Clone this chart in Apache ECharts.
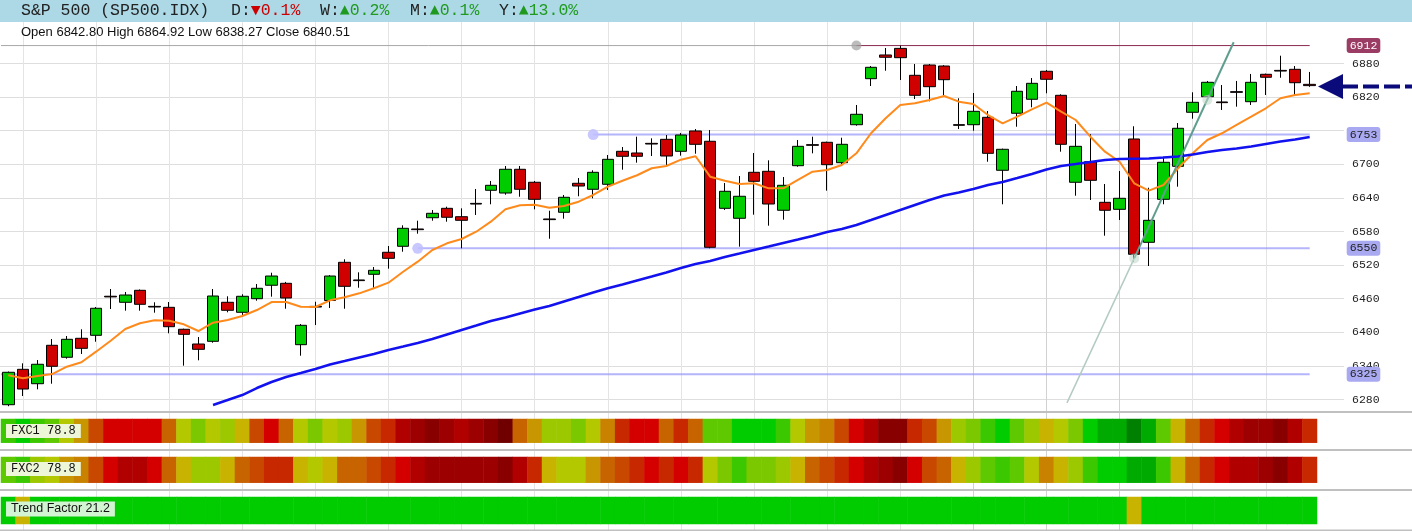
<!DOCTYPE html>
<html><head><meta charset="utf-8">
<script src="https://cdn.jsdelivr.net/npm/echarts@6/dist/echarts.min.js"></script>
<style>html,body{margin:0;padding:0;background:#fff;overflow:hidden}#c{width:1412px;height:531px}</style>
</head><body><div id="c"></div>
<script>
// ---------------- data ----------------
const symbolName = 'S&P 500 (SP500.IDX)';
const periodChanges = [
  {label: 'D:', dir: 'down', pct: '0.1%'},
  {label: 'W:', dir: 'up', pct: '0.2%'},
  {label: 'M:', dir: 'up', pct: '0.1%'},
  {label: 'Y:', dir: 'up', pct: '13.0%'}
];
const opens = [6270.7,6333.9,6308.2,6376.8,6355.4,6389.3,6394.6,6464.4,6453.6,6475.0,
  6446.3,6444.6,6405.4,6379.1,6383.9,6453.6,6435.7,6460.0,6484.0,6487.5,
  6377.9,6446.3,6456.8,6525.0,6493.5,6503.6,6542.9,6553.6,6584.5,6604.6,
  6621.4,6606.4,6630.2,6653.6,6648.7,6691.1,6667.9,6602.4,6614.3,6666.1,
  6655.4,6664.3,6723.2,6720.2,6737.4,6744.6,6723.2,6759.5,6741.1,6621.4,
  6603.6,6685.7,6687.5,6617.9,6697.5,6735.1,6739.3,6702.9,6770.7,6852.9,
  6895.2,6907.0,6858.9,6877.3,6875.5,6770.8,6770.7,6783.9,6689.3,6791.1,
  6816.1,6866.1,6823.2,6667.9,6704.6,6632.1,6619.6,6745.2,6560.7,6637.5,
  6696.4,6792.9,6820.7,6811.3,6829.7,6811.8,6860.7,6867.7,6869.6,6842.80];
const closes = [6328.6,6298.7,6342.9,6339.3,6387.5,6371.4,6442.9,6463.2,6466.6,6450.0,
  6445.2,6410.0,6396.4,6369.6,6464.8,6439.3,6464.3,6478.6,6500.5,6461.2,
  6412.5,6445.1,6500.5,6482.1,6492.3,6510.7,6532.1,6585.7,6583.3,6612.5,
  6605.4,6600.0,6629.0,6662.5,6691.1,6655.4,6637.5,6601.2,6641.1,6661.2,
  6685.7,6708.9,6714.3,6714.3,6736.2,6714.8,6752.3,6735.7,6551.8,6651.8,
  6642.9,6669.6,6629.1,6662.5,6732.1,6733.9,6699.3,6735.7,6789.3,6873.2,
  6891.1,6890.4,6823.2,6838.6,6851.1,6769.6,6794.6,6719.6,6726.8,6830.4,
  6844.6,6851.8,6735.7,6732.1,6671.4,6617.9,6639.3,6539.3,6600.0,6703.6,
  6764.3,6810.7,6846.4,6810.1,6828.5,6846.4,6855.4,6866.5,6845.7,6840.51];
const lows = [6268.0,6286.2,6298.2,6308.2,6352.9,6361.2,6383.2,6441.6,6438.6,6438.6,
  6435.0,6398.2,6340.4,6350.0,6381.4,6435.7,6427.9,6456.4,6463.6,6442.1,
  6358.2,6413.0,6443.4,6442.1,6479.6,6479.6,6513.6,6543.9,6576.1,6599.3,
  6597.5,6550.0,6609.5,6628.6,6645.7,6642.1,6619.6,6567.1,6602.9,6642.9,
  6639.3,6654.1,6690.4,6702.9,6714.8,6698.7,6715.4,6718.9,6550.0,6618.4,
  6552.9,6610.0,6590.4,6601.1,6695.7,6719.6,6652.9,6698.7,6768.9,6839.8,
  6867.1,6850.5,6816.6,6812.5,6823.2,6763.0,6760.0,6704.6,6628.6,6767.1,
  6801.8,6826.8,6722.5,6643.9,6636.2,6572.5,6600.5,6526.1,6518.4,6628.6,
  6660.0,6781.4,6817.9,6797.0,6802.9,6805.9,6823.7,6854.6,6823.7,6838.27];
const highs = [6330.0,6344.6,6350.5,6388.0,6393.4,6405.4,6445.2,6477.3,6472.0,6476.5,
  6453.6,6454.1,6406.5,6391.6,6477.3,6464.3,6467.9,6486.2,6506.4,6490.0,
  6414.8,6454.6,6502.0,6530.4,6507.1,6516.6,6554.1,6591.1,6599.3,6618.4,
  6624.3,6621.4,6655.9,6670.2,6697.0,6697.0,6670.2,6617.1,6645.2,6675.5,
  6689.3,6716.6,6730.9,6749.3,6746.4,6752.3,6756.0,6763.0,6761.2,6666.6,
  6679.1,6720.2,6707.1,6677.3,6743.4,6749.3,6740.5,6747.5,6805.9,6875.5,
  6907.7,6912.0,6879.1,6879.0,6877.0,6817.9,6827.3,6795.2,6728.0,6839.8,
  6854.1,6868.4,6825.0,6772.0,6753.6,6664.8,6688.0,6767.9,6658.2,6713.6,
  6773.7,6828.6,6848.8,6841.6,6848.8,6861.3,6862.0,6893.9,6875.5,6864.92];
// fast average (orange) and slow average (blue)
const fastAvg = [6323.2,6317.9,6322,6325.5,6338.6,6346.4,6365.4,6385,6405.9,6416.1,
  6421.4,6420.7,6414.3,6402.3,6417.1,6422,6429.1,6439.8,6454.1,6454.1,
  6445.7,6445.2,6457.1,6462.5,6469.6,6478.6,6488.6,6508.2,6526.1,6547,
  6558.9,6566.6,6579.6,6597.5,6619.6,6626.8,6627.9,6622.5,6625.5,6633.2,
  6645.2,6660,6670.7,6680.4,6692.9,6697,6708.2,6714.3,6677.9,6670.7,
  6664.8,6666.1,6657.1,6657.1,6672,6686.8,6689.8,6698.7,6719.6,6755.4,
  6782.1,6805.9,6808.9,6814.8,6822,6811.8,6807.7,6788,6773.2,6785,
  6798.2,6810,6793.9,6779.1,6749.3,6722.5,6704.6,6666.1,6652.9,6663,
  6692.9,6719.6,6743.4,6755.4,6770.2,6785,6800,6817.9,6823.7,6826.8];
const slowAvg = [null,null,null,null,null,null,null,null,null,null,null,null,null,null,
  6270.2,6279.1,6288,6300.5,6311.2,6320.2,6327.3,6334.5,6342.5,6348.7,
  6355,6361.2,6368.4,6374.6,6380.9,6388,6396.1,6404.1,6412.1,6420.2,
  6426.4,6433.6,6440.7,6447,6455,6463,6471.1,6478.6,6485.4,6492.5,
  6499.6,6506.8,6514.8,6522,6527.3,6534.5,6540.7,6547,6553.2,6559.5,
  6565.7,6572,6579.1,6584.5,6591.6,6600.5,6609.5,6618.4,6627.3,6636.2,
  6644.3,6649.6,6655.9,6663,6668.4,6675.5,6682.7,6690.7,6697,6700.5,
  6704.1,6707.7,6709.5,6710,6710.4,6712.1,6713.9,6717.5,6722,6725.5,
  6728.2,6731.8,6736.3,6740.7,6744.3,6748.8];
// horizontal levels: value, candle index where they are anchored
const highLevel = {value: 6912, anchor: 58};
const supportLevels = [
  {value: 6753, anchor: 40},
  {value: 6550, anchor: 28},
  {value: 6325, anchor: null}
];
// trend line (candle index, price)
const trendBack = [[72.4, 6274], [77, 6532]];
const trendFwd = [[77, 6532], [83.8, 6918]];
const trendAnchors = [[77, 6532], [82, 6815]];
// price axis tick labels
const priceTicks = [6280,6340,6400,6460,6520,6580,6640,6700,6760,6820,6880];
// indicator strips: colour level per candle (0 = strongest green ... 18 = darkest red)
const fxc1 = [3,2,3,4,7,9,12,14,14,14, 14,11,7,5,7,6,8,12,14,11, 7,5,7,6,9,12,13,15,16,17,
  16,15,16,17,18,11,9,6,6,5, 7,10,13,14,14,11,13,11,4,4, 2,2,2,3,7,9,10,12,14,15,
  17,17,13,12,9,6,5,3,2,4, 6,8,7,5,2,1,1,0,1,4, 8,11,13,14,15,16,16,17,15,13];
const fxc2 = [4,3,6,7,9,10,12,14,15,15, 14,11,8,6,6,8,11,12,13,13, 8,7,8,11,11,12,13,14,15,16,
  16,16,16,16,17,15,13,8,7,7, 9,11,12,13,14,13,14,13,7,5, 3,5,5,6,8,11,12,13,14,15,
  16,17,14,12,11,8,6,4,3,4, 7,10,8,6,3,2,2,1,1,3, 8,11,13,14,15,15,16,17,15,13];
const trendFactor = [2,8,2,2,2,2,2,2,2,2, 2,2,2,2,2,2,2,2,2,2, 2,2,2,2,2,2,2,2,2,2,
  2,2,2,2,2,2,2,2,2,2, 2,2,2,2,2,2,2,2,2,2, 2,2,2,2,2,2,2,2,2,2,
  2,2,2,2,2,2,2,2,2,2, 2,2,2,2,2,2,2,8,2,2, 2,2,2,2,2,2,2,2,2,2];
const stripLabels = ['FXC1 78.8', 'FXC2 78.8', 'Trend Factor 21.2'];
const palette = ['#008000','#00aa00','#00cc00','#3cc800','#5ec800','#7cc800','#9cc800','#b4c800',
  '#c8b400','#c89600','#c88200','#c86400','#c84800','#c82800','#d40000','#b00000','#9c0000','#880000','#700000'];
const categories = opens.map((_, i) => String(i + 1));

// ---------------- chart ----------------
const chart = echarts.init(document.getElementById('c'));
const PMIN = 6220, PMAX = 6929.1;
const mono = '"Liberation Mono", "DejaVu Sans Mono", monospace';
const sans = '"Liberation Sans", Arial, sans-serif';

const candleData = opens.map((o, i) => [o, closes[i], lows[i], highs[i]]);
const heat = arr => arr.map((v, i) => [i, 0, v]);
const lastIdx = opens.length - 1;

const vLineColors = [];
for (let k = 0; k < 18; k++) vLineColors.push(k >= 13 && k <= 15 ? '#d2d2d2' : '#e4e4e4');

const levelSeries = [];
levelSeries.push({
  type: 'line', xAxisIndex: 1, yAxisIndex: 0, z: 2, silent: true, symbol: 'none',
  lineStyle: {color: '#a8a8a8', width: 1},
  data: [[-0.5, highLevel.value], [highLevel.anchor, highLevel.value]]
});
levelSeries.push({
  type: 'line', xAxisIndex: 1, yAxisIndex: 0, z: 2, silent: true, showSymbol: true,
  lineStyle: {color: '#8a2a50', width: 1},
  data: [
    {value: [highLevel.anchor, highLevel.value], symbol: 'circle', symbolSize: 10, itemStyle: {color: 'rgba(160,160,160,0.7)'}},
    {value: [lastIdx, highLevel.value], symbol: 'none'}
  ],
  endLabel: {show: true, formatter: String(highLevel.value), distance: 37, color: '#fff',
    backgroundColor: '#9b3c64', padding: [1, 3, 1, 3], borderRadius: 3,
    fontFamily: mono, fontSize: 11.5, lineHeight: 13}
});
supportLevels.forEach(l => {
  const start = l.anchor == null ? -0.5 : l.anchor;
  levelSeries.push({
    type: 'line', xAxisIndex: 1, yAxisIndex: 0, z: 2, silent: true, showSymbol: true,
    lineStyle: {color: 'rgba(150,150,250,0.7)', width: 2},
    data: [
      l.anchor == null ? {value: [start, l.value], symbol: 'none'} :
        {value: [start, l.value], symbol: 'circle', symbolSize: 11, itemStyle: {color: 'rgba(190,190,255,0.85)'}},
      {value: [lastIdx, l.value], symbol: 'none'}
    ],
    endLabel: {show: true, formatter: String(l.value), distance: 37, color: '#222',
      backgroundColor: '#a9a9f2', padding: [1, 3, 1, 3], borderRadius: 3,
      fontFamily: mono, fontSize: 11.5, lineHeight: 13}
  });
});

const option = {
  animation: false,
  backgroundColor: '#fff',
  grid: [
    {left: 1, right: 95, top: 36, bottom: 97.9},
    {left: 0, right: 68, top: 36, bottom: 97.9},
    {left: 22.93, right: 95, top: 22, bottom: 0},
    {left: 1, right: 95, top: 419, height: 23.7},
    {left: 1, right: 95, top: 457, height: 25.7},
    {left: 1, right: 95, top: 497, height: 27}
  ],
  xAxis: [
    {type: 'category', gridIndex: 0, data: categories, boundaryGap: true, show: false},
    {type: 'value', gridIndex: 0, min: -0.5, max: lastIdx + 0.5, show: false},
    {type: 'value', gridIndex: 2, min: 1, max: lastIdx + 0.5, interval: 5,
      axisLine: {show: false}, axisTick: {show: false}, axisLabel: {show: false},
      splitLine: {show: true, showMaxLine: false, lineStyle: {color: vLineColors, width: 1}}},
    {type: 'value', gridIndex: 1, min: 0, max: 1, show: false},
    {type: 'category', gridIndex: 3, data: categories, show: false},
    {type: 'category', gridIndex: 4, data: categories, show: false},
    {type: 'category', gridIndex: 5, data: categories, show: false}
  ],
  yAxis: [
    {type: 'value', gridIndex: 0, min: PMIN, max: PMAX, show: false},
    {type: 'value', gridIndex: 1, position: 'right', min: PMIN, max: PMAX, interval: 60,
      axisLine: {show: false}, axisTick: {show: false},
      axisLabel: {margin: 8, fontFamily: mono, fontSize: 11.5, color: '#222',
        formatter: v => priceTicks.indexOf(Math.round(v)) >= 0 && Math.abs(v - Math.round(v)) < 1e-6 ? String(v) : ''},
      splitLine: {show: true, showMinLine: false, showMaxLine: false, lineStyle: {color: '#dedede', width: 1}}},
    {type: 'value', gridIndex: 2, min: 0, max: 1, show: false},
    {type: 'category', gridIndex: 3, data: ['a'], show: false},
    {type: 'category', gridIndex: 4, data: ['a'], show: false},
    {type: 'category', gridIndex: 5, data: ['a'], show: false}
  ],
  visualMap: {
    type: 'piecewise', show: false, dimension: 2, seriesIndex: [3, 4, 5],
    pieces: palette.map((c, i) => ({value: i, color: c}))
  },
  series: [
    {type: 'candlestick', xAxisIndex: 0, yAxisIndex: 0, z: 3, data: candleData, barWidth: 12,
      itemStyle: {color: '#00cc00', color0: '#d00000', borderColor: '#000', borderColor0: '#000',
        borderColorDoji: '#000', borderWidth: 1}},
    {type: 'line', xAxisIndex: 0, yAxisIndex: 0, z: 4, data: fastAvg, symbol: 'none', silent: true,
      lineStyle: {color: '#ff8a1c', width: 2}},
    {type: 'line', xAxisIndex: 0, yAxisIndex: 0, z: 4, data: slowAvg, symbol: 'none', silent: true,
      lineStyle: {color: '#1212f0', width: 2.5}},
    {type: 'heatmap', xAxisIndex: 4, yAxisIndex: 3, data: heat(fxc1), itemStyle: {borderWidth: 0}, emphasis: {disabled: true}},
    {type: 'heatmap', xAxisIndex: 5, yAxisIndex: 4, data: heat(fxc2), itemStyle: {borderWidth: 0}, emphasis: {disabled: true}},
    {type: 'heatmap', xAxisIndex: 6, yAxisIndex: 5, data: heat(trendFactor), itemStyle: {borderWidth: 0}, emphasis: {disabled: true}},
    ...levelSeries,
    {type: 'line', xAxisIndex: 1, yAxisIndex: 0, z: 5, silent: true, symbol: 'none', data: trendBack,
      lineStyle: {color: '#b4cac4', width: 1.5}},
    {type: 'line', xAxisIndex: 1, yAxisIndex: 0, z: 5, silent: true, symbol: 'none', data: trendFwd,
      lineStyle: {color: '#5f9e8e', width: 2}},
    {type: 'scatter', xAxisIndex: 1, yAxisIndex: 0, z: 5, silent: true, data: trendAnchors,
      symbolSize: 10, itemStyle: {color: 'rgba(190,215,200,0.7)'}}
  ]
};
chart.setOption(option);

// ---------------- annotations ----------------
const endPt = chart.convertToPixel({xAxisIndex: 1, yAxisIndex: 0}, [lastIdx + 0.5, closes[lastIdx]]);
const tipX = endPt[0] + 1, tipY = endPt[1] + 1;
const graphics = [
  {type: 'rect', z: 20, shape: {x: 0, y: 0, width: 1412, height: 22}, style: {fill: '#add8e6'}},
  {type: 'text', z: 21, x: 21, y: 11, style: {text: symbolName, font: '16.5px ' + mono, fill: '#222', verticalAlign: 'middle'}}
];
const segX = [231, 320, 410, 499];
periodChanges.forEach((p, i) => {
  const up = p.dir === 'up';
  graphics.push({type: 'text', z: 21, x: segX[i], y: 11, style: {
    text: '{l|' + p.label + '}{v|' + (up ? '▲' : '▼') + p.pct + '}',
    verticalAlign: 'middle',
    rich: {l: {font: '16.5px ' + mono, fill: '#222'}, v: {font: '16.5px ' + mono, fill: up ? '#1f9a1f' : '#cc0000'}}
  }});
});
const last = lastIdx;
graphics.push({type: 'text', z: 21, x: 21, y: 32, style: {
  text: 'Open ' + opens[last].toFixed(2) + ' High ' + highs[last].toFixed(2) + ' Low ' + lows[last].toFixed(2) + ' Close ' + closes[last].toFixed(2),
  font: '13px ' + sans, fill: '#111', verticalAlign: 'middle'}});
[412, 450, 490, 530.5].forEach(y => graphics.push({type: 'line', z: 6, shape: {x1: 0, y1: y, x2: 1412, y2: y}, style: {stroke: '#c0c0c0', lineWidth: 2}}));
const stripY = [431, 469, 509];
stripLabels.forEach((t, i) => {
  const isMono = i < 2;
  graphics.push({type: 'text', z: 22, x: 6, y: stripY[i], style: {
    text: t, font: isMono ? '12px ' + mono : '12.5px ' + sans, fill: '#111', verticalAlign: 'middle',
    backgroundColor: isMono ? '#eef6d8' : '#d2f4d2', padding: isMono ? [1, 5, 1, 5] : [1, 5, 1, 5]
  }});
});
graphics.push({type: 'polygon', z: 22, shape: {points: [[tipX, tipY], [tipX + 25, tipY - 12.5], [tipX + 25, tipY + 12.5]]}, style: {fill: '#0a0a7a'}});
graphics.push({type: 'line', z: 22, shape: {x1: tipX + 24, y1: tipY, x2: 1412, y2: tipY}, style: {stroke: '#0a0a7a', lineWidth: 4, lineDash: [16, 5]}});
chart.setOption({graphic: graphics});
</script>
</body></html>
